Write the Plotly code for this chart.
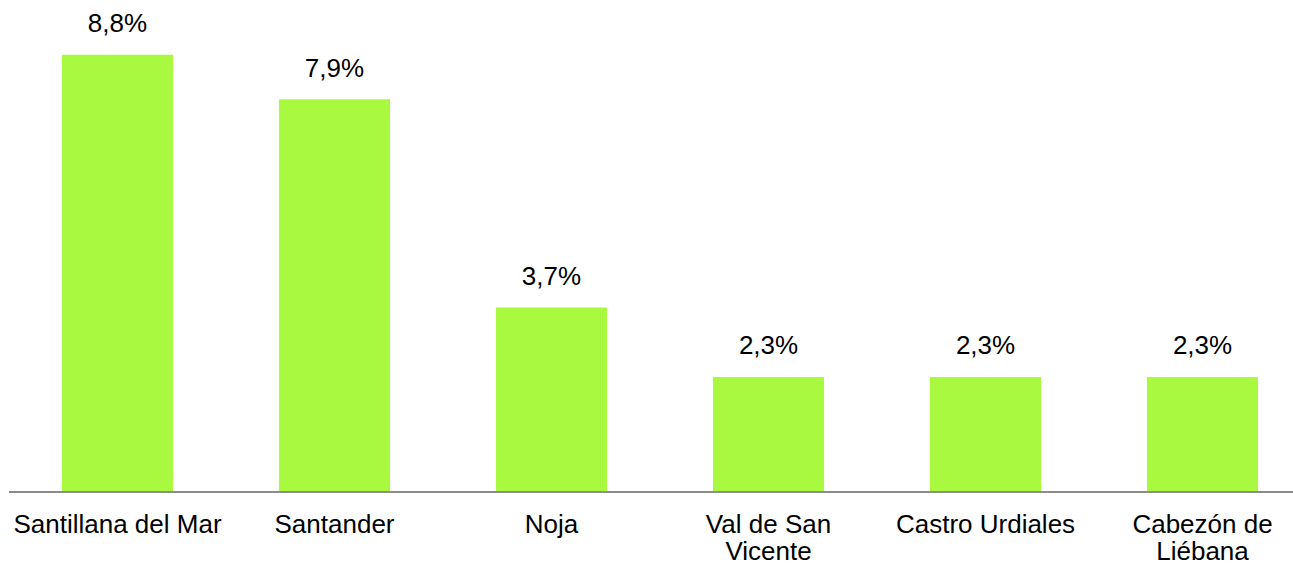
import plotly.graph_objects as go

categories_line1 = ["Santillana del Mar", "Santander", "Noja", "Val de San", "Castro Urdiales", "Cabezón de"]
categories_line2 = ["", "", "", "Vicente", "", "Liébana"]
values = [8.8, 7.9, 3.7, 2.3, 2.3, 2.3]
labels = [f"{v:.1f}%".replace(".", ",") for v in values]

FONT = "Liberation Sans, Arial"
xs = list(range(len(values)))

fig = go.Figure()
fig.add_trace(go.Bar(
    x=xs, y=values,
    marker=dict(color="#AAF941", line=dict(width=0)),
    width=0.512,
    hoverinfo="skip",
))
fig.add_trace(go.Scatter(
    x=xs, y=values, mode="markers+text",
    text=labels, textposition="top center",
    marker=dict(size=24, opacity=0),
    textfont=dict(family=FONT, size=26, color="#000000"),
    cliponaxis=False, hoverinfo="skip",
))
# second line of category labels on an overlaid axis
fig.add_trace(go.Scatter(x=xs, y=[None]*len(xs), xaxis="x2", showlegend=False, hoverinfo="skip"))

axis_common = dict(
    range=[-0.5, 5.417],
    tickmode="array",
    tickvals=xs,
    showgrid=False, zeroline=False,
    ticks="outside", tickcolor="rgba(0,0,0,0)",
    tickfont=dict(family=FONT, size=26, color="#000000"),
    automargin=False,
)

fig.update_layout(
    width=1293, height=565,
    margin=dict(l=9, r=0, t=10, b=74),
    plot_bgcolor="white", paper_bgcolor="white",
    showlegend=False,
    font=dict(family=FONT, size=26, color="#000000"),
    xaxis=dict(axis_common, ticktext=categories_line1, ticklen=9,
               showline=True, linecolor="#8c8c8c", linewidth=2),
    xaxis2=dict(axis_common, ticktext=categories_line2, ticklen=37,
                overlaying="x", anchor="y", side="bottom", showline=False),
    yaxis=dict(range=[0, 9.70], visible=False, automargin=False),
)

fig.write_html("out.html", config={"displayModeBar": False},
               post_script="document.body.style.margin='0';document.body.style.padding='0';")
